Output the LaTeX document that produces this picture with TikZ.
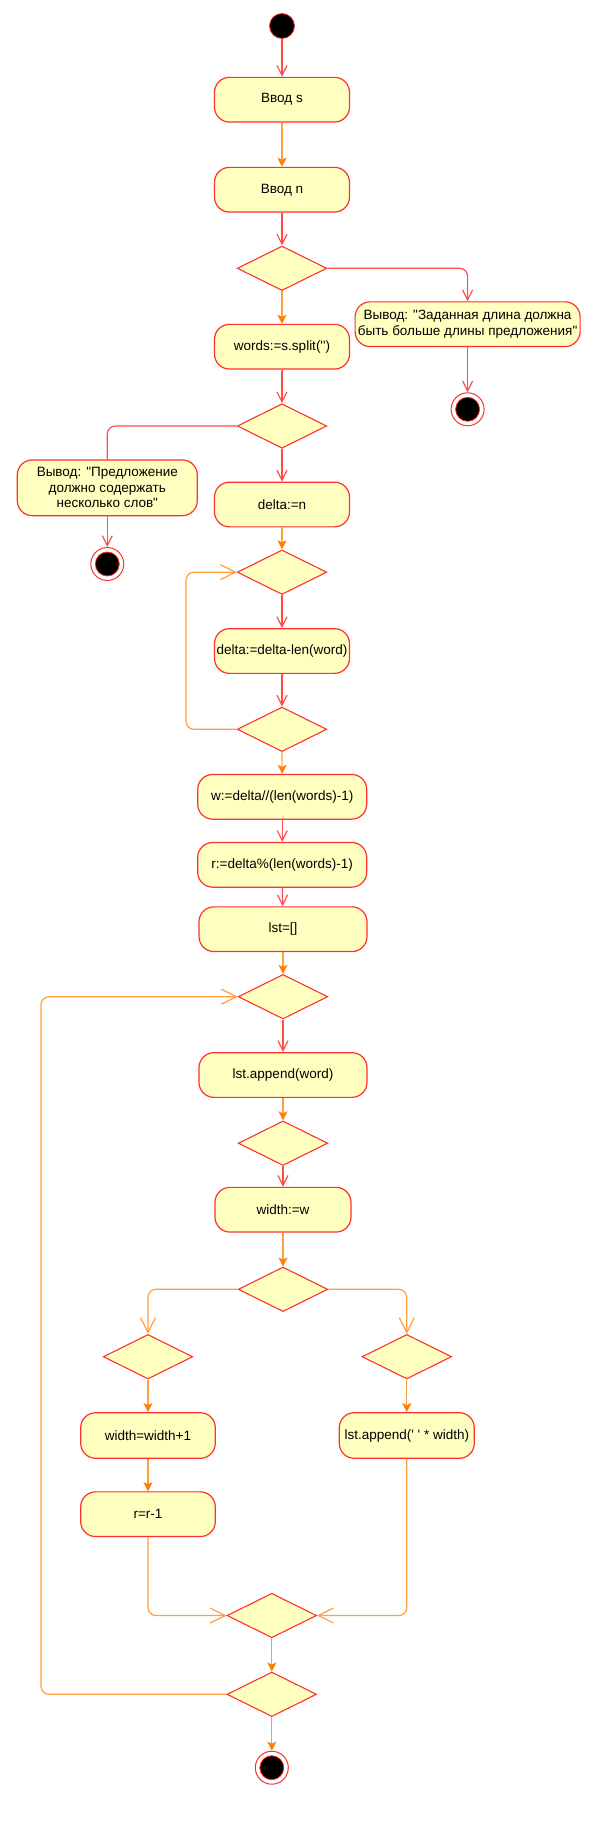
\documentclass[tikz,border=0pt]{standalone}
\usepackage{fontspec}
\setmainfont{Liberation Sans}[Ligatures=TeXOff]
\usetikzlibrary{shapes.geometric,arrows.meta}
\definecolor{boxfill}{HTML}{FFFFC0}
\definecolor{boxline}{HTML}{FF3030}
\definecolor{redline}{HTML}{FF4D4D}
\definecolor{orline}{HTML}{FFA040}
\definecolor{orhead}{HTML}{FF8000}
\tikzset{
 act/.style={draw=boxline, fill=boxfill, rounded corners=15pt, line width=1.2pt, minimum height=44.7pt, inner sep=0pt, align=center, font=\fontsize{13.5}{15.5}\selectfont},
 dec/.style={diamond, aspect=2, draw=boxline, fill=boxfill, line width=1.1pt, minimum width=89.5pt, minimum height=44.5pt, inner sep=0pt},
 startnode/.style={circle, fill=black, draw=boxline, line width=0.8pt, minimum size=25pt, inner sep=0pt},
 endnode/.style={circle, draw=boxline, fill=white, line width=1pt, minimum size=33pt, inner sep=0pt,
   path picture={\filldraw[fill=black, draw=boxline, line width=0.8pt] (path picture bounding box.center) circle (12pt);}},
 redarrow/.style={draw=redline, line width=1.2pt, rounded corners=8pt, -{Straight Barb[length=10pt,width=10pt]}},
 redline/.style={draw=redline, line width=1.2pt, rounded corners=8pt},
 orfill/.style={draw=orline, line width=1.2pt, -{Stealth[length=9pt,width=9pt,inset=2pt,fill=orhead,color=orhead]}},
 oropen/.style={draw=orline, line width=1.2pt, rounded corners=8pt, -{Straight Barb[length=15pt,width=15pt]}},
}
\begin{document}
\begin{tikzpicture}[x=1pt,y=-1pt]
\fill[white] (0,0) rectangle (592,1828);
\useasboundingbox (0,0) rectangle (592,1828);

\node[startnode] (start) at (282,26) {};
\node[act, minimum width=135pt] (ins) at (282,99.7) {Ввод s};
\node[act, minimum width=135pt] (inn) at (282,189.7) {Ввод n};
\node[dec] (d1) at (282,268.3) {};
\node[act, minimum width=225pt] (out1) at (467.6,324.2) {Вывод: "Заданная длина должна\\быть больше длины предложения"};
\node[endnode] (end1) at (467.6,409.3) {};
\node[act, minimum width=135pt] (words) at (282,346.7) {words:=s.split('')};
\node[dec] (d2) at (282,426) {};
\node[act, minimum width=180pt, minimum height=55.7pt] (out2) at (107.3,487.8) {Вывод: "Предложение\\должно содержать\\несколько слов"};
\node[endnode] (end2) at (107.3,564) {};
\node[act, minimum width=135pt] (delta) at (282,504.5) {delta:=n};
\node[dec] (d3) at (282,572.2) {};
\node[act, minimum width=135pt] (dlen) at (282,651) {delta:=delta-len(word)};
\node[dec] (d4) at (282,729.3) {};
\node[act, minimum width=169pt] (wb) at (282.2,796.8) {w:=delta//(len(words)-1)};
\node[act, minimum width=169pt] (rb) at (282.2,864.8) {r:=delta\%(len(words)-1)};
\node[act, minimum width=168pt] (lst) at (283,929.2) {lst=[]};
\node[dec] (d5) at (283,996.7) {};
\node[act, minimum width=168pt] (lstw) at (283,1075) {lst.append(word)};
\node[dec] (d6) at (283,1143.2) {};
\node[act, minimum width=136pt] (wdt) at (283,1209.7) {width:=w};
\node[dec] (d7) at (283,1289.3) {};
\node[dec] (d8) at (148,1356.7) {};
\node[dec] (d9) at (406.8,1356.7) {};
\node[act, minimum width=134.6pt, minimum height=45.6pt] (winc) at (148,1435.5) {width=width+1};
\node[act, minimum width=135pt, minimum height=45.6pt] (lsp) at (406.8,1435.5) {lst.append(' ' * width)};
\node[act, minimum width=134.6pt] (rdec) at (148,1514.2) {r=r-1};
\node[dec] (mg) at (271.8,1615.5) {};
\node[dec] (d10) at (271.8,1694.3) {};
\node[endnode] (end3) at (271.8,1767.7) {};

\coordinate (lp1) at (186,729.3);
\coordinate (lp2) at (41,1694.3);

\draw[redarrow] (start) -- (ins);
\draw[orfill] (ins) -- (inn);
\draw[redarrow] (inn) -- (d1);
\draw[redarrow] (d1.east) -| (out1.north);
\draw[orfill] (d1) -- (words);
\draw[redarrow] (out1) -- (end1);
\draw[redarrow] (words) -- (d2);
\draw[redline] (d2.west) -| (out2.north);
\draw[redarrow] (out2) -- (end2);
\draw[redarrow] (d2) -- (delta);
\draw[orfill] (delta) -- (d3);
\draw[redarrow] (d3) -- (dlen);
\draw[redarrow] (dlen) -- (d4);
\draw[oropen] (d4.west) -- (lp1) |- (d3.west);
\draw[orfill] (d4) -- (wb);
\draw[redarrow] (wb) -- (rb);
\draw[redarrow] (rb) -- (lst);
\draw[orfill] (lst) -- (d5);
\draw[redarrow] (d5) -- (lstw);
\draw[orfill] (lstw) -- (d6);
\draw[redarrow] (d6) -- (wdt);
\draw[orfill] (wdt) -- (d7);
\draw[oropen] (d7.west) -| (d8.north);
\draw[oropen] (d7.east) -| (d9.north);
\draw[orfill] (d8) -- (winc);
\draw[orfill] (d9) -- (lsp);
\draw[orfill] (winc) -- (rdec);
\draw[oropen] (rdec.south) |- (mg.west);
\draw[oropen] (lsp.south) |- (mg.east);
\draw[orfill] (mg) -- (d10);
\draw[oropen] (d10.west) -- (lp2) |- (d5.west);
\draw[orfill] (d10) -- (end3);
\end{tikzpicture}
\end{document}
